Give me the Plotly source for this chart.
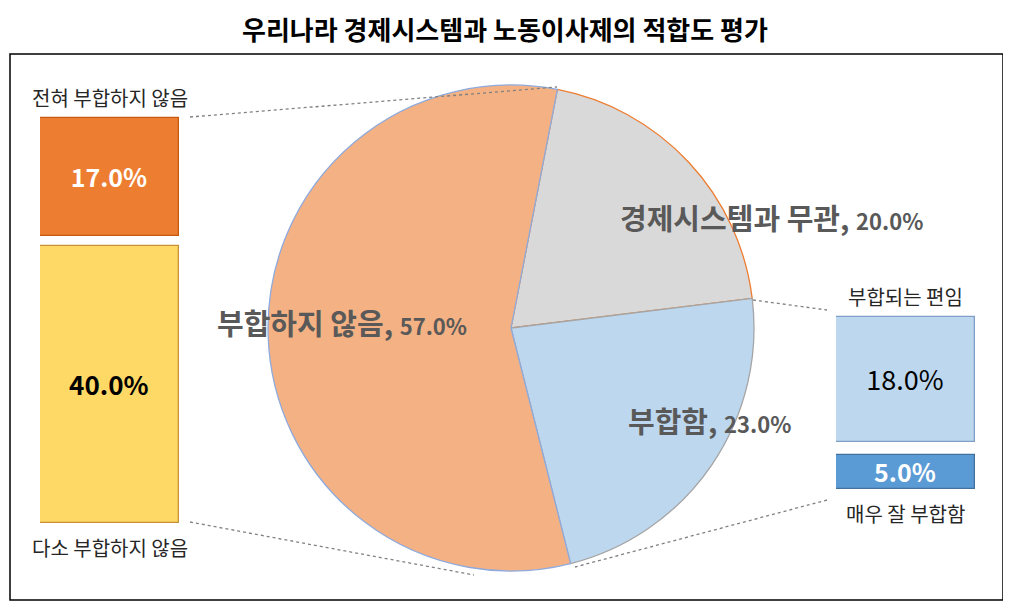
import plotly.graph_objects as go

W, H = 1011, 614
OFF = 8  # page body margin in the browser
FONT = "Noto Sans CJK KR"

# pie: 경제시스템 적합도 평가
pie_labels = ['경제시스템과 무관', '부합함', '부합하지 않음']
pie_values = [20.0, 23.0, 57.0]
pie_colors = ['#D9D9D9', '#BDD7EE', '#F4B183']
pie_edges = ['#ED7D31', '#A5A5A5', '#8FAADC']

# left bar = breakdown of "부합하지 않음" (bottom -> top)
left_labels = ['다소 부합하지 않음', '전혀 부합하지 않음']
left_values = [40.0, 17.0]
left_colors = ['#FFD966', '#ED7D31']
left_edges = ['#C9913A', '#C55A11']

# right bar = breakdown of "부합함" (bottom -> top)
right_labels = ['매우 잘 부합함', '부합되는 편임']
right_values = [5.0, 18.0]
right_colors = ['#5B9BD5', '#BDD7EE']
right_edges = ['#41719C', '#7F9FC8']

S = 6.93  # pixels per percentage point on the bar axes


def py(y_pix):
    return (H - (y_pix - OFF)) / S


def px(x_pix, y_pix):
    return (x_pix - OFF) / W, 1 - (y_pix - OFF) / H


gap = 10 / S
left_base = [py(523), py(523) + left_values[0] + gap]
r_top = py(317)
r_gap = 13 / S
right_base = [r_top - right_values[1] - r_gap - right_values[0], r_top - right_values[1]]

fig = go.Figure()

pie_x0, pie_y0 = px(511 - 243, 328 + 243)
pie_x1, pie_y1 = px(511 + 243, 328 - 243)
fig.add_trace(go.Pie(
    labels=pie_labels, values=pie_values, sort=False, direction='clockwise',
    rotation=11, textinfo='none', hoverinfo='label+percent',
    marker=dict(colors=pie_colors, line=dict(color=pie_edges, width=1.3)),
    domain=dict(x=[pie_x0, pie_x1], y=[pie_y0, pie_y1]),
))

fig.add_trace(go.Bar(
    x=[0, 0], y=left_values, base=left_base, xaxis='x', yaxis='y',
    marker=dict(color=left_colors, line=dict(color=left_edges, width=1.3)),
    text=[f'<b>{v:.1f}%</b>' for v in left_values],
    textposition='inside', insidetextanchor='middle', textangle=0,
    constraintext='none',
    textfont=dict(family=FONT, size=[26, 25], color=['black', 'white']),
    hovertext=left_labels, hoverinfo='text+y',
))

fig.add_trace(go.Bar(
    x=[0, 0], y=right_values, base=right_base, xaxis='x2', yaxis='y2',
    marker=dict(color=right_colors, line=dict(color=right_edges, width=1.3)),
    text=[f'<b>{right_values[0]:.1f}%</b>', f'{right_values[1]:.1f}%'],
    textposition='inside', insidetextanchor='middle', textangle=0,
    constraintext='none',
    textfont=dict(family=FONT, size=[25, 27], color=['white', 'black']),
    hovertext=right_labels, hoverinfo='text+y',
))

tx, ty = px(505, 28)
annotations = [dict(
    text='<b>우리나라 경제시스템과 노동이사제의 적합도 평가</b>',
    x=tx, y=ty, xref='paper', yref='paper', showarrow=False,
    xanchor='center', yanchor='middle',
    font=dict(family=FONT, size=26, color='black'),
)]

# pie slice labels
label_pos = [(771, 217), (709, 420), (342, 322)]
for lab, val, (lx, ly) in zip(pie_labels, pie_values, label_pos):
    ax, ay = px(lx, ly)
    annotations.append(dict(
        text=f"<b>{lab}, <span style='font-size:22px'>{val:.1f}%</span></b>",
        x=ax, y=ay, xref='paper', yref='paper', showarrow=False,
        xanchor='center', yanchor='middle',
        font=dict(family=FONT, size=29, color='#595959'),
    ))

# category names above / below the bars
for xr, yr, labels, values, bases in [('x', 'y', left_labels, left_values, left_base),
                                      ('x2', 'y2', right_labels, right_values, right_base)]:
    annotations.append(dict(
        text=labels[1], x=0, y=bases[1] + values[1], xref=xr, yref=yr,
        yanchor='bottom', yshift=4, showarrow=False,
        font=dict(family=FONT, size=20, color='#262626'),
    ))
    annotations.append(dict(
        text=labels[0], x=0, y=bases[0], xref=xr, yref=yr,
        yanchor='top', yshift=-8, showarrow=False,
        font=dict(family=FONT, size=20, color='#262626'),
    ))

# dotted connector lines between pie and bars
connectors = [((190, 117), (557, 87)), ((190, 522), (474, 575)),
              ((753, 300), (827, 310)), ((827, 500), (575, 567))]
shapes = []
for p0, p1 in connectors:
    x0, y0 = px(*p0)
    x1, y1 = px(*p1)
    shapes.append(dict(type='line', xref='paper', yref='paper', x0=x0, y0=y0, x1=x1, y1=y1,
                       line=dict(color='#808080', width=1.3, dash='dot')))
bx0, by0 = px(10, 54)
bx1, by1 = px(1003, 600)
shapes.append(dict(type='rect', xref='paper', yref='paper', x0=bx0, y0=by0, x1=bx1, y1=by1,
                   line=dict(color='black', width=1.5)))

ax0, _ = px(40, 0)
ax1, _ = px(179, 0)
bx2, _ = px(836, 0)
bx3, _ = px(975, 0)
fig.update_layout(
    width=W, height=H, margin=dict(l=0, r=0, t=0, b=0),
    paper_bgcolor='white', plot_bgcolor='rgba(0,0,0,0)',
    showlegend=False, barmode='overlay', bargap=0,
    font=dict(family=FONT),
    xaxis=dict(domain=[ax0, ax1], range=[-0.5, 0.5], visible=False, anchor='y'),
    yaxis=dict(domain=[0, 1], range=[0, H / S], visible=False, anchor='x'),
    xaxis2=dict(domain=[bx2, bx3], range=[-0.5, 0.5], visible=False, anchor='y2'),
    yaxis2=dict(domain=[0, 1], range=[0, H / S], visible=False, anchor='x2'),
    annotations=annotations, shapes=shapes,
)

fig.write_html("out.html")
